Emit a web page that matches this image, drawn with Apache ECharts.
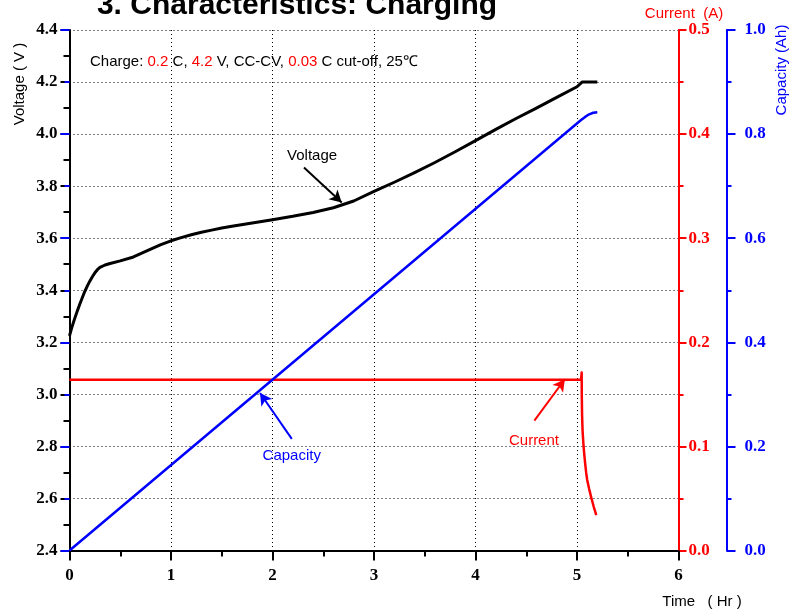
<!DOCTYPE html>
<html>
<head>
<meta charset="utf-8">
<script src="https://cdn.jsdelivr.net/npm/echarts@6/dist/echarts.min.js"></script>
<style>html,body{margin:0;padding:0;background:#fff;}#c{width:802px;height:613px;}</style>
</head>
<body>
<div id="c"></div>
<script>
// ---- data ----
var voltageData = [
  [0,3.225],[0.025,3.26],[0.05,3.29],[0.075,3.318],[0.1,3.345],[0.125,3.37],[0.15,3.395],
  [0.175,3.416],[0.2,3.435],[0.225,3.452],[0.25,3.467],[0.275,3.479],[0.3,3.488],[0.35,3.497],
  [0.4,3.503],[0.5,3.513],[0.63,3.528],[0.8,3.558],[0.9,3.575],[1.0,3.590],[1.1,3.602],[1.2,3.613],
  [1.3,3.623],[1.4,3.631],[1.5,3.639],[1.6,3.646],[1.8,3.658],[2.0,3.671],[2.2,3.684],[2.4,3.699],
  [2.6,3.717],[2.8,3.743],[3.0,3.780],[3.2,3.815],[3.4,3.852],[3.6,3.891],[3.8,3.932],[4.0,3.975],
  [4.2,4.018],[4.4,4.060],[4.6,4.100],[4.8,4.141],[5.0,4.182],[5.05,4.2],[5.2,4.2]
];
var currentData = [
  [0,0.164],[5.04,0.164],[5.046,0.171],[5.047,0.15],[5.05,0.13],[5.055,0.115],[5.062,0.104],
  [5.07,0.094],[5.08,0.084],[5.09,0.075],[5.1,0.068],[5.12,0.059],[5.14,0.051],[5.165,0.042],[5.19,0.034]
];
var capacityData = [
  [0,0],[5.04,0.827],[5.08,0.833],[5.12,0.838],[5.16,0.841],[5.2,0.842]
];
var timeTicks = [0,1,2,3,4,5,6];
var voltageTicks = [2.4,2.6,2.8,3.0,3.2,3.4,3.6,3.8,4.0,4.2,4.4];
var currentTicks = [0.0,0.1,0.2,0.3,0.4,0.5];
var capacityTicks = [0.0,0.2,0.4,0.6,0.8,1.0];

// annotation arrows [from, tip] in (time, voltage) units, and labels
var voltageArrow = [[2.31,3.872],[2.682,3.737]];
var capacityArrow = [[2.19,2.829],[1.877,3.005]];
var currentArrow = [[4.58,2.899],[4.88,3.058]];
var annoLabels = [
  {text:'Voltage', at:[2.39,3.917], color:'#000'},
  {text:'Capacity', at:[2.19,2.763], color:'#0000ff'},
  {text:'Current', at:[4.576,2.822], color:'#ff0000'}
];

var serif = 'Liberation Serif, Times New Roman, serif';
var sans = 'Liberation Sans, Arial, sans-serif';

var chart = echarts.init(document.getElementById('c'));

function arrowItem(a, color){
  return [{coord:a[0], lineStyle:{color:color, width:2, type:'solid'}}, {coord:a[1]}];
}

var option = {
  animation:false,
  backgroundColor:'#fff',
  grid:{left:69.5, right:123.5, top:30, bottom:62.5, containLabel:false},
  xAxis:[{
    type:'value', min:timeTicks[0], max:timeTicks[timeTicks.length-1], interval:1,
    axisLine:{show:true, onZero:false, lineStyle:{color:'#000', width:2}},
    axisTick:{show:true, inside:false, length:10, lineStyle:{color:'#000', width:2}},
    minorTick:{show:true, splitNumber:2, length:6, lineStyle:{color:'#000', width:2}},
    axisLabel:{margin:17, color:'#000', fontFamily:serif, fontWeight:'bold', fontSize:17},
    splitLine:{show:true, lineStyle:{color:'#000', width:1, type:[1,3]}}
  },{
    type:'value', position:'top', min:0, max:6,
    axisLine:{show:true, lineStyle:{color:'#000', width:2}},
    axisTick:{show:false}, axisLabel:{show:false}, splitLine:{show:false}
  }],
  yAxis:[{
    type:'value', position:'left', min:voltageTicks[0], max:voltageTicks[voltageTicks.length-1], interval:0.2,
    axisLine:{show:true, onZero:false, lineStyle:{color:'#000', width:2}},
    axisTick:{show:true, length:9, lineStyle:{color:'#000', width:2}},
    minorTick:{show:true, splitNumber:2, length:6, lineStyle:{color:'#000', width:2}},
    axisLabel:{margin:12, color:'#000', fontFamily:serif, fontWeight:'bold', fontSize:17,
      formatter:function(v){return v.toFixed(1);}},
    splitLine:{show:true, lineStyle:{color:'#000', width:1, type:[1,3]}}
  },{
    type:'value', position:'right', offset:0, min:currentTicks[0], max:currentTicks[currentTicks.length-1], interval:0.1,
    axisLine:{show:true, onZero:false, lineStyle:{color:'#ff0000', width:2}},
    axisTick:{show:true, length:8, lineStyle:{color:'#ff0000', width:2}},
    minorTick:{show:true, splitNumber:2, length:5, lineStyle:{color:'#ff0000', width:2}},
    axisLabel:{margin:10, color:'#ff0000', fontFamily:serif, fontWeight:'bold', fontSize:17,
      formatter:function(v){return v.toFixed(1);}},
    splitLine:{show:false}
  },{
    type:'value', position:'right', offset:48, min:capacityTicks[0], max:capacityTicks[capacityTicks.length-1], interval:0.2,
    axisLine:{show:true, onZero:false, lineStyle:{color:'#0000ff', width:2}},
    axisTick:{show:true, length:9, lineStyle:{color:'#0000ff', width:2}},
    minorTick:{show:true, splitNumber:2, length:5, lineStyle:{color:'#0000ff', width:2}},
    axisLabel:{margin:18, color:'#0000ff', fontFamily:serif, fontWeight:'bold', fontSize:17,
      formatter:function(v){return v.toFixed(1);}},
    splitLine:{show:false}
  },{
    type:'value', position:'right', offset:48, min:0, max:1, interval:0.2,
    axisLine:{show:false},
    axisTick:{show:true, inside:true, length:9, lineStyle:{color:'#0000ff', width:2}},
    minorTick:{show:true, splitNumber:2, length:5, lineStyle:{color:'#0000ff', width:2}},
    axisLabel:{show:false}, splitLine:{show:false}
  }],
  series:[{
    name:'Current', type:'line', xAxisIndex:0, yAxisIndex:1, data:currentData,
    showSymbol:false, symbol:'none', lineStyle:{color:'#ff0000', width:2.5, join:'round'}, z:3
  },{
    name:'Capacity', type:'line', xAxisIndex:0, yAxisIndex:2, data:capacityData,
    showSymbol:false, symbol:'none',
    lineStyle:{color:'#0000ff', width:2.5, join:'round'}, z:4
  },{
    name:'Voltage', type:'line', xAxisIndex:0, yAxisIndex:0, data:voltageData,
    showSymbol:false, symbol:'none',
    lineStyle:{color:'#000', width:3, join:'round'}, z:5,
    markLine:{
      silent:true, symbol:['none','arrow'], symbolSize:[10,12], label:{show:false},
      data:[arrowItem(voltageArrow,'#000'), arrowItem(capacityArrow,'#0000ff'), arrowItem(currentArrow,'#ff0000')]
    },
    markPoint:{
      silent:true, symbol:'rect', symbolSize:1, itemStyle:{color:'rgba(0,0,0,0)'},
      data:annoLabels.map(function(a){
        return {coord:a.at, label:{show:true, position:'inside', formatter:a.text, color:a.color,
          fontFamily:sans, fontSize:15}};
      })
    }
  }],
  graphic:[
    {type:'text', x:297, y:6, style:{text:'3. Characteristics: Charging', textAlign:'center', textVerticalAlign:'middle',
      font:'bold 30px '+sans, fill:'#000'}},
    {type:'text', x:90, y:62, style:{textVerticalAlign:'middle', textAlign:'left',
      text:'{k|Charge: }{r|0.2}{k| C, }{r|4.2}{k| V, CC-CV, }{r|0.03}{k| C cut-off, 25℃}',
      rich:{k:{fill:'#000', fontFamily:sans, fontSize:15}, r:{fill:'#ff0000', fontFamily:sans, fontSize:15}}}},
    {type:'text', x:20, y:84, rotation:Math.PI/2, style:{text:'Voltage ( V )', textAlign:'center', textVerticalAlign:'middle',
      font:'15px '+sans, fill:'#000'}},
    {type:'text', x:684, y:14, style:{text:'Current  (A)', textAlign:'center', textVerticalAlign:'middle',
      font:'15px '+sans, fill:'#ff0000'}},
    {type:'text', x:782, y:70, rotation:Math.PI/2, style:{text:'Capacity (Ah)', textAlign:'center', textVerticalAlign:'middle',
      font:'15px '+sans, fill:'#0000ff'}},
    {type:'text', x:702, y:602, style:{text:'Time   ( Hr )', textAlign:'center', textVerticalAlign:'middle',
      font:'15px '+sans, fill:'#000'}}
  ]
};
chart.setOption(option);
</script>
</body>
</html>
